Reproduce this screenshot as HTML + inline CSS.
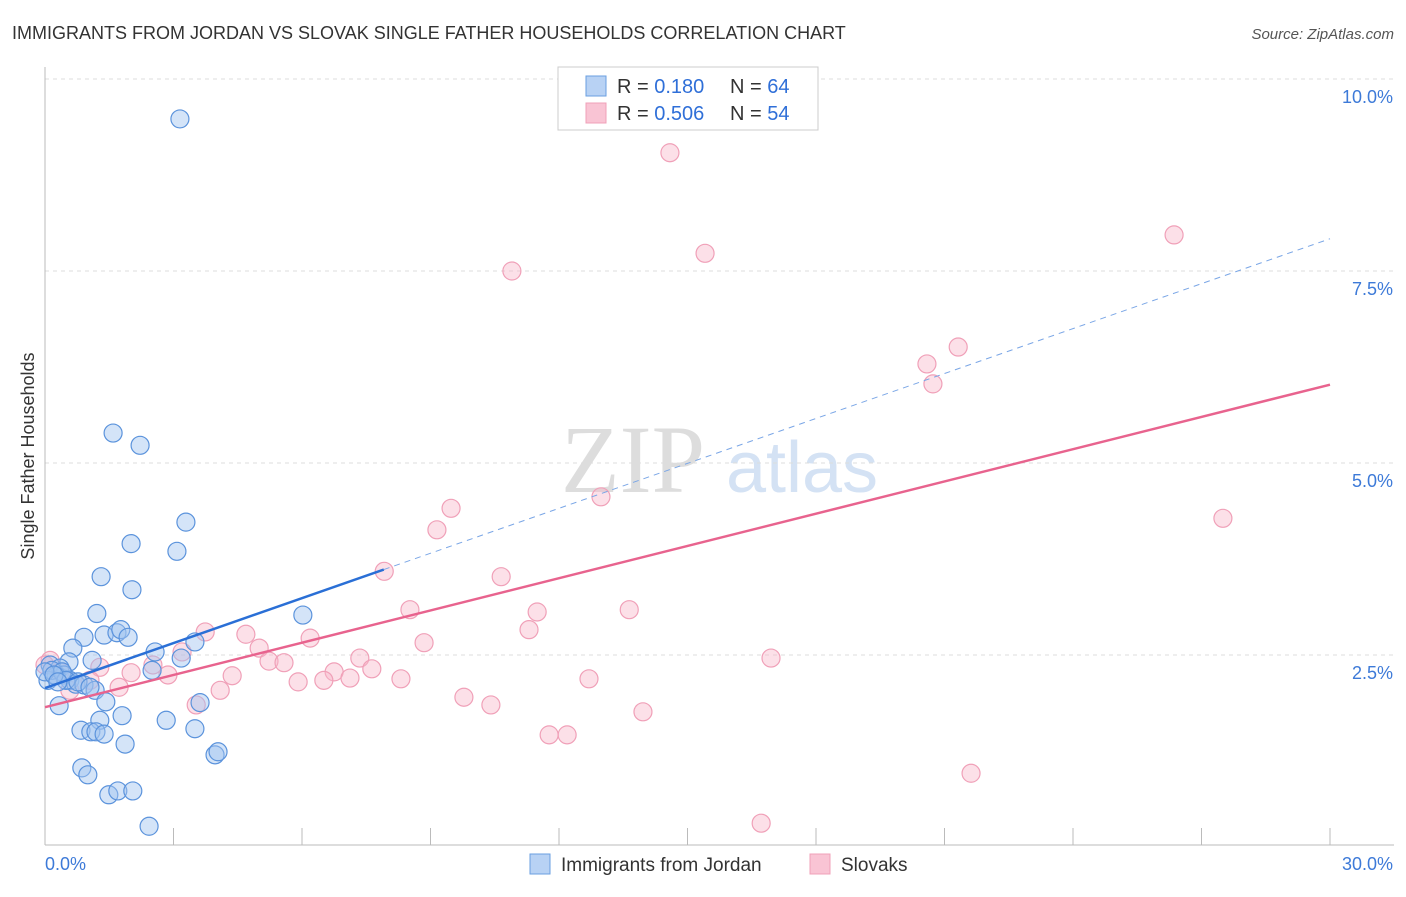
<!DOCTYPE html>
<html><head><meta charset="utf-8"><style>
body{margin:0;background:#fff;font-family:"Liberation Sans",sans-serif;}
svg text{font-family:"Liberation Sans",sans-serif;}
</style></head><body>
<svg id="c" width="1406" height="892" xmlns="http://www.w3.org/2000/svg">
<text x="12" y="39" font-size="18" fill="#333">IMMIGRANTS FROM JORDAN VS SLOVAK SINGLE FATHER HOUSEHOLDS CORRELATION CHART</text>
<text x="1394" y="39" font-size="15" fill="#555" text-anchor="end" font-style="italic">Source: ZipAtlas.com</text>
<g>
<text x="633" y="492" font-size="96" fill="#ddd" text-anchor="middle" font-family="Liberation Serif" style="font-family:'Liberation Serif',serif">ZIP</text>
<text x="802" y="492" font-size="72" fill="#d4e2f4" text-anchor="middle">atlas</text>
</g>
<g id="grid"></g>
<g id="axes"></g>
<g id="pts"></g>
<g id="trend"></g>
<g>
<rect x="558" y="67" width="260" height="63" fill="#fff" stroke="#ccc"/>
<rect x="586" y="76" width="20" height="20" fill="#b8d2f4" stroke="#6a9fe0"/>
<rect x="586" y="103" width="20" height="20" fill="#f9c4d4" stroke="#f0a0b8"/>
<text x="617" y="93" font-size="20" fill="#333">R = <tspan fill="#2f6fd8"> 0.180</tspan></text>
<text x="730" y="93" font-size="20" fill="#333">N = <tspan fill="#2f6fd8">64</tspan></text>
<text x="617" y="120" font-size="20" fill="#333">R = <tspan fill="#2f6fd8">0.506</tspan></text>
<text x="730" y="120" font-size="20" fill="#333">N = <tspan fill="#2f6fd8">54</tspan></text>
</g>
<g>
<rect x="530" y="854" width="20" height="20" fill="#b8d2f4" stroke="#6a9fe0"/>
<text x="561" y="871" font-size="19" fill="#333">Immigrants from Jordan</text>
<rect x="810" y="854" width="20" height="20" fill="#f9c4d4" stroke="#f0a0b8"/>
<text x="841" y="871" font-size="19" fill="#333">Slovaks</text>
</g>
<text x="34" y="456" font-size="18" fill="#333" text-anchor="middle" transform="rotate(-90 34 456)">Single Father Households</text>
</svg>
<script>
const yTicks=[2.5,5,7.5,10];
const yTickLabels=["2.5%","5.0%","7.5%","10.0%"];
const xTicks=[3,6,9,12,15,18,21,24,27,30];
const jordanX=[3.15,1.59,2.22,3.29,2.01,3.08,1.31,2.03,1.21,6.02,0.91,1.38,1.68,1.77,1.94,0.65,3.50,2.57,3.18,1.10,0.56,0.12,0.35,0.44,0.58,2.50,0.26,0.07,0.72,0.91,1.17,1.42,3.62,0.33,1.80,1.28,2.83,0.84,1.07,1.19,1.38,3.50,1.87,3.97,4.04,0.86,1.00,1.49,1.70,2.05,2.43,0.16,0.40,0.49,0.00,0.21,0.30,0.77,1.05];
const jordanY=[9.48,5.39,5.23,4.23,3.95,3.85,3.52,3.35,3.04,3.02,2.73,2.76,2.79,2.83,2.73,2.59,2.67,2.54,2.46,2.43,2.41,2.37,2.33,2.24,2.17,2.30,2.23,2.17,2.12,2.11,2.04,1.89,1.88,1.84,1.71,1.65,1.65,1.52,1.50,1.50,1.47,1.54,1.34,1.20,1.24,1.03,0.94,0.68,0.73,0.73,0.27,2.30,2.28,2.17,2.28,2.24,2.15,2.15,2.08];
const slovakX=[14.59,26.36,15.41,10.90,21.32,20.59,20.73,12.98,9.48,9.15,27.50,7.92,10.65,8.52,11.49,13.64,3.74,4.69,6.19,11.30,3.20,5.00,8.85,2.52,2.01,2.87,4.37,5.23,5.58,7.35,7.63,6.75,7.12,5.91,6.51,8.31,12.70,16.95,1.73,4.09,3.53,9.78,10.41,13.96,11.77,12.19,21.62,16.72,0.12,0.35,1.28,0.00,0.58,1.05];
const slovakY=[9.04,7.97,7.73,7.50,6.51,6.29,6.03,4.56,4.41,4.13,4.28,3.59,3.52,3.09,3.06,3.09,2.80,2.77,2.72,2.83,2.54,2.59,2.66,2.37,2.27,2.24,2.23,2.42,2.40,2.46,2.32,2.28,2.20,2.15,2.17,2.19,2.19,2.46,2.08,2.04,1.85,1.95,1.85,1.76,1.46,1.46,0.96,0.31,2.43,2.28,2.34,2.37,2.04,2.17];
const jordanTrend=[2.07,0.195,7.91]; // intercept, slope, solid-end x
const slovakTrend=[1.82,0.14];
const NS="http://www.w3.org/2000/svg";
const X0=45,X1=1330,Y0=847,PXPERY=76.8;
function sx(v){return X0+v/30*(X1-X0);}
function sy(v){return Y0-v*PXPERY;}
function mk(tag,attrs,parent){const e=document.createElementNS(NS,tag);for(const k in attrs)e.setAttribute(k,attrs[k]);parent.appendChild(e);return e;}
const grid=document.getElementById('grid'),axes=document.getElementById('axes'),pts=document.getElementById('pts'),trend=document.getElementById('trend');
yTicks.forEach((t,i)=>{
 const l=mk('line',{x1:X0,x2:1394,y1:sy(t),y2:sy(t),stroke:'#ddd','stroke-dasharray':'4,4'},grid);
 
 
 const tx=mk('text',{x:1393,y:sy(t)+24,'font-size':18,fill:'#3d7ad8','text-anchor':'end'},axes);
 tx.textContent=yTickLabels[i];
 
 
});
const ax=mk('line',{x1:X0,x2:X0,y1:67,y2:845,stroke:'#bbb'},axes);


const bx=mk('line',{x1:X0,x2:1394,y1:845,y2:845,stroke:'#bbb'},axes);


xTicks.forEach(t=>{
 const l=mk('line',{x1:sx(t),x2:sx(t),y1:828,y2:845,stroke:'#bbb'},axes);
 
 
});
const xl0=mk('text',{x:45,y:870,'font-size':18,fill:'#3d7ad8'},axes);xl0.textContent='0.0%';


const xl1=mk('text',{x:1393,y:870,'font-size':18,fill:'#3d7ad8','text-anchor':'end'},axes);xl1.textContent='30.0%';


slovakX.forEach((v,i)=>{
 const c=mk('circle',{cx:sx(v),cy:sy(slovakY[i]),r:9,fill:'rgba(248,180,200,0.42)',stroke:'#f0a0b8','stroke-width':1.2},pts);
 
 
});
jordanX.forEach((v,i)=>{
 const c=mk('circle',{cx:sx(v),cy:sy(jordanY[i]),r:9,fill:'rgba(160,196,240,0.45)',stroke:'#5b93dc','stroke-width':1.2},pts);
 
 
});
const jl=mk('line',{x1:sx(0),y1:sy(jordanTrend[0]),x2:sx(jordanTrend[2]),y2:sy(jordanTrend[0]+jordanTrend[1]*jordanTrend[2]),stroke:'#2a6fd6','stroke-width':2.5},trend);


const jd=mk('line',{x1:sx(jordanTrend[2]),y1:sy(jordanTrend[0]+jordanTrend[1]*jordanTrend[2]),x2:sx(30),y2:sy(jordanTrend[0]+jordanTrend[1]*30),stroke:'#7aa6e6','stroke-width':1,'stroke-dasharray':'6,5'},trend);


const sl=mk('line',{x1:sx(0),y1:sy(slovakTrend[0]),x2:sx(30),y2:sy(slovakTrend[0]+slovakTrend[1]*30),stroke:'#e8638e','stroke-width':2.5},trend);


</script>
</body></html>
